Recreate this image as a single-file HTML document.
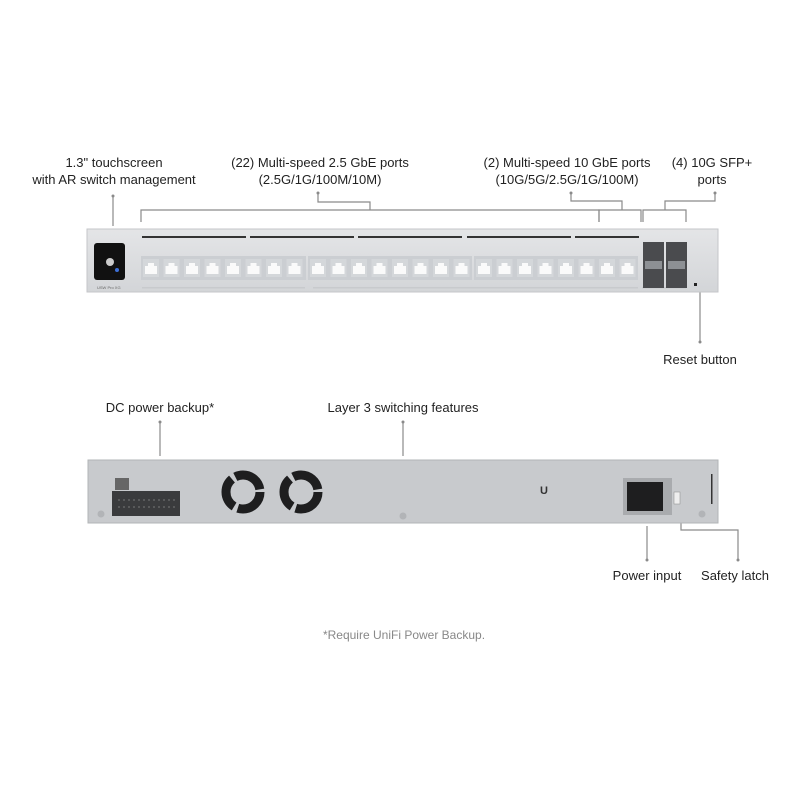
<!DOCTYPE html>
<html><head><meta charset="utf-8"><style>
body{margin:0;background:#fff;}
svg text{font-family:"Liberation Sans",sans-serif;font-size:13px;fill:#222;}
</style></head><body>
<svg width="800" height="800" viewBox="0 0 800 800" xmlns="http://www.w3.org/2000/svg">
<defs>
<linearGradient id="pg" x1="0" y1="0" x2="0" y2="1"><stop offset="0" stop-color="#e4e5e7"/><stop offset="1" stop-color="#d3d5d8"/></linearGradient>
<g id="rj"><rect x="0" y="0" width="16" height="18" fill="#d4d7da"/><path d="M2 15 V7 H5 V4 H11 V7 H14 V15 Z" fill="#fafafa"/></g>
</defs>
<text x="114" y="167" text-anchor="middle">1.3" touchscreen</text>
<text x="114" y="184" text-anchor="middle">with AR switch management</text>
<text x="320" y="167" text-anchor="middle">(22) Multi-speed 2.5 GbE ports</text>
<text x="320" y="184" text-anchor="middle">(2.5G/1G/100M/10M)</text>
<text x="567" y="167" text-anchor="middle">(2) Multi-speed 10 GbE ports</text>
<text x="567" y="184" text-anchor="middle">(10G/5G/2.5G/1G/100M)</text>
<text x="712" y="167" text-anchor="middle">(4) 10G SFP+</text>
<text x="712" y="184" text-anchor="middle">ports</text>
<text x="700" y="364" text-anchor="middle">Reset button</text>
<text x="160" y="412" text-anchor="middle">DC power backup*</text>
<text x="403" y="412" text-anchor="middle">Layer 3 switching features</text>
<text x="647" y="580" text-anchor="middle">Power input</text>
<text x="735" y="580" text-anchor="middle">Safety latch</text>
<text x="404" y="639" text-anchor="middle" style="fill:#888;font-size:12px">*Require UniFi Power Backup.</text>
<g stroke="#8a8a8a" stroke-width="1.2" fill="none">
<path d="M113 196 V226"/>
<path d="M318 193 V202 H370 V210 M141 222 V210 H599 V222"/>
<path d="M571 193 V201 H622 V210 M599 222 V210 H641 V222"/>
<path d="M715 193 V201 H665 V210 M643 222 V210 H686 V222"/>
<path d="M700 290 V342"/>
<path d="M160 422 V456"/>
<path d="M403 422 V456"/>
<path d="M647 526 V560"/>
<path d="M681 522 V530 H738 V560"/>
</g>
<g fill="#8a8a8a"><circle cx="113" cy="196" r="1.5"/><circle cx="318" cy="193" r="1.5"/><circle cx="571" cy="193" r="1.5"/><circle cx="715" cy="193" r="1.5"/><circle cx="700" cy="342" r="1.5"/><circle cx="160" cy="422" r="1.5"/><circle cx="403" cy="422" r="1.5"/><circle cx="647" cy="560" r="1.5"/><circle cx="738" cy="560" r="1.5"/></g>
<rect x="87" y="229" width="631" height="63" fill="url(#pg)" stroke="#c4c6c9"/>
<rect x="94" y="243" width="31" height="37" rx="3" fill="#111"/>
<circle cx="110" cy="262" r="4" fill="#ccc"/><circle cx="117" cy="270" r="2" fill="#3d6fd6"/>
<text x="97" y="289" style="font-size:4px;fill:#666">USW Pro XG</text>
<g fill="#333"><rect x="142" y="236" width="104" height="2"/><rect x="250" y="236" width="104" height="2"/><rect x="358" y="236" width="104" height="2"/><rect x="467" y="236" width="104" height="2"/><rect x="575" y="236" width="64" height="2"/></g>
<g>
<rect x="141" y="256" width="165" height="24" fill="#cbced2"/>
<rect x="308" y="256" width="164" height="24" fill="#cbced2"/>
<rect x="474" y="256" width="164" height="24" fill="#cbced2"/>
<use href="#rj" x="143" y="259"/><use href="#rj" x="163.5" y="259"/><use href="#rj" x="184" y="259"/><use href="#rj" x="204.5" y="259"/><use href="#rj" x="225" y="259"/><use href="#rj" x="245.5" y="259"/><use href="#rj" x="266" y="259"/><use href="#rj" x="286.5" y="259"/>
<use href="#rj" x="310" y="259"/><use href="#rj" x="330.5" y="259"/><use href="#rj" x="351" y="259"/><use href="#rj" x="371.5" y="259"/><use href="#rj" x="392" y="259"/><use href="#rj" x="412.5" y="259"/><use href="#rj" x="433" y="259"/><use href="#rj" x="453.5" y="259"/>
<use href="#rj" x="476" y="259"/><use href="#rj" x="496.5" y="259"/><use href="#rj" x="517" y="259"/><use href="#rj" x="537.5" y="259"/><use href="#rj" x="558" y="259"/><use href="#rj" x="578.5" y="259"/><use href="#rj" x="599" y="259"/><use href="#rj" x="619.5" y="259"/>
</g>
<g fill="#c8cacd"><rect x="142" y="287" width="163" height="1.5"/><rect x="313" y="287" width="325" height="1.5"/><rect x="642" y="287" width="44" height="1.5"/></g>
<rect x="643" y="242" width="21" height="46" fill="#4a4b4e"/><rect x="666" y="242" width="21" height="46" fill="#4a4b4e"/>
<rect x="645" y="261" width="17" height="8" fill="#8d9094"/><rect x="668" y="261" width="17" height="8" fill="#8d9094"/>
<rect x="694" y="283" width="3" height="3" fill="#222"/>
<rect x="88" y="460" width="630" height="63" fill="#c8cacd" stroke="#b2b4b7"/>
<rect x="115" y="478" width="14" height="12" fill="#666"/>
<rect x="112" y="491" width="68" height="25" fill="#3a3b3d"/>
<g stroke="#777" stroke-width="1" stroke-dasharray="2 3"><path d="M118 500 H176 M118 507 H176"/></g>
<circle cx="101" cy="514" r="3.5" fill="#b2b4b7"/><circle cx="403" cy="516" r="3.5" fill="#b2b4b7"/><circle cx="702" cy="514" r="3.5" fill="#b2b4b7"/>
<g fill="none" stroke="#1e1e1f" stroke-width="9">
<circle cx="243" cy="492" r="17" stroke-dasharray="32 4"/>
<circle cx="301" cy="492" r="17" stroke-dasharray="32 4"/>
</g>
<rect x="623" y="478" width="49" height="37" fill="#a9abae"/>
<rect x="627" y="482" width="36" height="29" fill="#1e1e1f"/>
<rect x="674" y="492" width="6" height="12" fill="#eee" stroke="#888" stroke-width=".5"/>
<rect x="711" y="474" width="1.5" height="30" fill="#333"/>
<text x="540" y="494" style="font-size:11px;fill:#333;font-weight:bold">U</text>
</svg>
</body></html>
